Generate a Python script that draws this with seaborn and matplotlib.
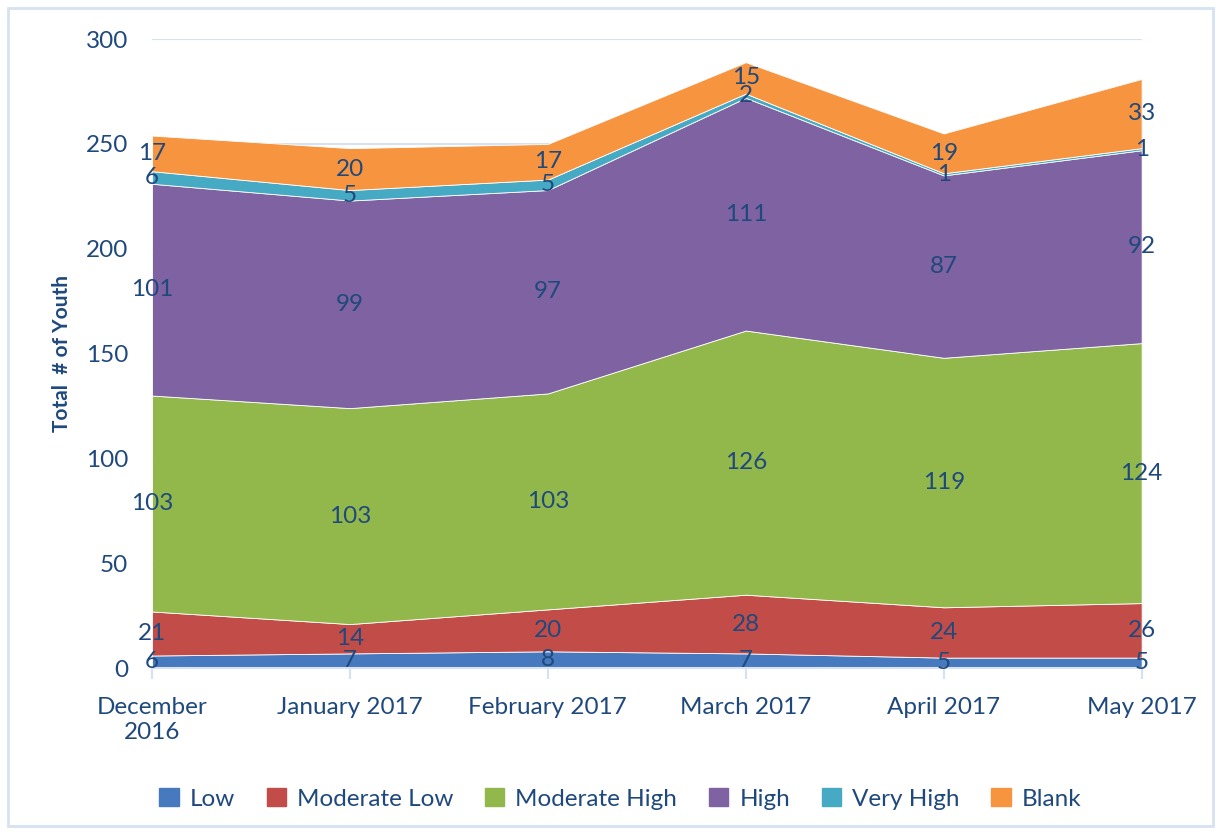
import matplotlib
matplotlib.use("Agg")
import matplotlib.pyplot as plt
import matplotlib.patches as mpatches
import seaborn as sns
import numpy as np
import pandas as pd

months = ["December\n2016", "January 2017", "February 2017",
          "March 2017", "April 2017", "May 2017"]
categories = ["Low", "Moderate Low", "Moderate High", "High", "Very High", "Blank"]
low = [6, 7, 8, 7, 5, 5]
moderate_low = [21, 14, 20, 28, 24, 26]
moderate_high = [103, 103, 103, 126, 119, 124]
high = [101, 99, 97, 111, 87, 92]
very_high = [6, 5, 5, 2, 1, 1]
blank = [17, 20, 17, 15, 19, 33]

colors = ["#4679BE", "#C24C48", "#92B84C", "#7F62A1", "#46AAC4", "#F79440"]
text_color = "#1F497D"

df = pd.DataFrame(
    {"Low": low, "Moderate Low": moderate_low, "Moderate High": moderate_high,
     "High": high, "Very High": very_high, "Blank": blank},
    index=months,
)

sns.set_style("white")
plt.rcParams["font.family"] = ["Lato", "DejaVu Sans"]

fig = plt.figure(figsize=(12.21, 8.32), dpi=100)
ax = fig.add_axes([0.1245, 0.197, 0.8105, 0.756])

x = np.arange(len(months))
ax.stackplot(x, [df[c].values for c in categories], colors=colors,
             labels=categories, edgecolor="white", linewidth=0.6, zorder=2)

# value labels in the middle of each band
base = np.zeros(len(months))
for c in categories:
    vals = df[c].values
    for xi, b, v in zip(x, base, vals):
        ax.text(xi, b + v / 2, str(v), ha="center", va="center",
                fontsize=17.5, color=text_color, zorder=5)
    base = base + vals

ax.set_xlim(0, len(months) - 1)
ax.set_ylim(0, 300)
ax.set_yticks(range(0, 301, 50))
ax.yaxis.grid(True, color="#D6E2F2", linewidth=1.5, zorder=0)
ax.set_axisbelow(True)
for s in ["top", "right", "left"]:
    ax.spines[s].set_visible(False)
ax.spines["bottom"].set_color("#D6E2F2")
ax.spines["bottom"].set_linewidth(1.5)

ax.set_xticks(x)
ax.set_xticklabels(months)
ax.tick_params(axis="x", length=8, width=1.5, color="#D6E2F2", pad=13,
               labelsize=17.5, labelcolor=text_color, direction="out", bottom=True)
ax.tick_params(axis="y", length=0, pad=17, labelsize=17.5, labelcolor=text_color)
ax.set_ylabel("Total  # of Youth", fontsize=15, fontweight="bold",
              color=text_color, labelpad=10)

handles = [mpatches.Patch(color=col, label=c) for c, col in zip(categories, colors)]
leg = fig.legend(handles=handles, loc="center", bbox_to_anchor=(0.508, 0.04),
                 ncol=6, frameon=False, fontsize=17.5, handlelength=0.8,
                 handleheight=0.8, columnspacing=1.3, handletextpad=0.45)
for t in leg.get_texts():
    t.set_color(text_color)

fig.patches.append(mpatches.Rectangle((8 / 1221, 6 / 832), 1205 / 1221, 818 / 832,
                                      transform=fig.transFigure, fill=False,
                                      edgecolor="#D6E2F2", linewidth=2))

fig.savefig("out.png", dpi=100)
plt.close(fig)
